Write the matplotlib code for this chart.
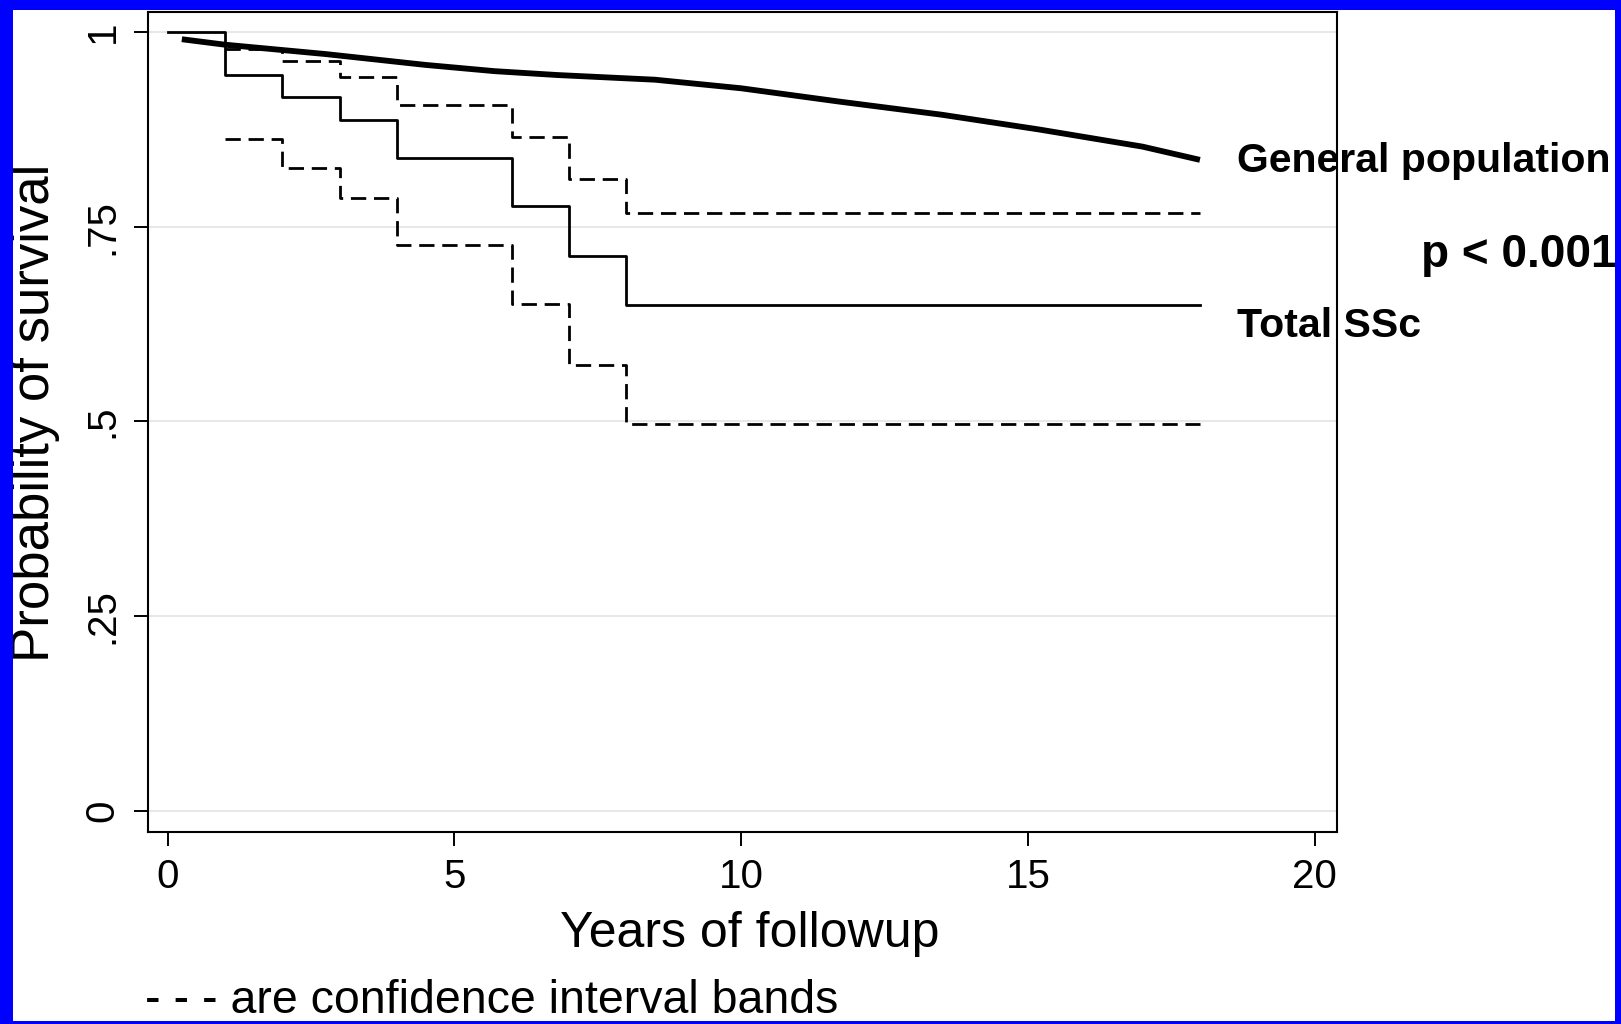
import matplotlib
matplotlib.use("Agg")
import matplotlib.pyplot as plt
from matplotlib.patches import Rectangle

plt.rcParams["font.family"] = ["Liberation Sans", "DejaVu Sans"]

# Kaplan-Meier survival for the SSc cohort (step function)
km_years = [0, 1, 2, 3, 4, 6, 7, 8, 18]
km_surv = [1.0, 0.945, 0.917, 0.887, 0.838, 0.777, 0.712, 0.650, 0.650]

# 95% confidence bands around the KM estimate
ci_years = [1, 2, 3, 4, 6, 7, 8, 18]
ci_upper = [0.978, 0.963, 0.942, 0.907, 0.865, 0.812, 0.768, 0.768]
ci_lower = [0.863, 0.826, 0.787, 0.727, 0.651, 0.572, 0.497, 0.497]

# Expected survival of the matched general population
gp_years = [0.25, 1, 2.75, 4.5, 5.7, 6.8, 8.5, 10, 11.7, 13.5, 15.2, 17, 18]
gp_surv = [0.991, 0.984, 0.972, 0.958, 0.950, 0.945, 0.939, 0.928, 0.911,
           0.894, 0.875, 0.853, 0.836]

x_ticks = [0, 5, 10, 15, 20]
y_ticks = [0, 0.25, 0.5, 0.75, 1]
y_tick_labels = ["0", ".25", ".5", ".75", "1"]

W, H = 1621, 1024
fig = plt.figure(figsize=(W / 100, H / 100), dpi=100, facecolor="white")
ax = fig.add_axes([148 / W, 1 - 832 / H, (1337 - 148) / W, (832 - 12) / H])

ax.set_xlim(-0.34, 20.39)
ax.set_ylim(-0.0276, 1.026)

# light horizontal grid
for yv in y_ticks:
    ax.axhline(yv, color="#e8e8e8", lw=1.5, zorder=0.5)

ax.plot(km_years, km_surv, drawstyle="steps-post", color="black", lw=2.0,
        zorder=3)
for band in (ci_upper, ci_lower):
    ax.plot(ci_years, band, drawstyle="steps-post", color="black", lw=2.0,
            linestyle=(0, (5.5, 2.8)), zorder=3)
ax.plot(gp_years, gp_surv, color="black", lw=4.2, solid_capstyle="butt",
        solid_joinstyle="round", zorder=4)

for s in ax.spines.values():
    s.set_linewidth(1.5)
    s.set_color("black")
    s.set_zorder(5)

ax.set_xticks(x_ticks)
ax.set_xticklabels([str(v) for v in x_ticks])
ax.set_yticks(y_ticks)
ax.set_yticklabels(y_tick_labels)
ax.tick_params(axis="both", which="major", length=10, width=1.4,
               labelsize=29, color="black")
ax.tick_params(axis="x", pad=9)
ax.tick_params(axis="y", pad=9, labelrotation=90)
for lab in ax.get_yticklabels():
    lab.set_va("center")

ax.set_xlabel("Years of followup", fontsize=36)
ax.xaxis.set_label_coords((750 - 148) / 1189, (832 - 934) / 820)
ax.xaxis.label.set_va("center")
ax.set_ylabel("Probability of survival", fontsize=38)
ax.yaxis.set_label_coords((35 - 148) / 1189, (832 - 413) / 820)
ax.yaxis.label.set_va("center")

txt_kw = dict(fontsize=29.5, fontweight="bold", ha="left", va="baseline",
              clip_on=False, zorder=2)
ax.text(18.64, 0.8205, "General population", **txt_kw)
ax.text(18.64, 0.6085, "Total SSc", **txt_kw)
ax.text(21.86, 0.6988, "p < 0.001", fontsize=33, fontweight="bold",
        ha="left", va="baseline", clip_on=False, zorder=2)

fig.text(145 / W, 1 - 1001 / H, "- - - are confidence interval bands",
         fontsize=33.5, ha="left", va="center")

# blue frame around the figure
blue = "#0000fe"
frame = [
    (0, H - 10, W, 10),      # top
    (0, 0, W, 3),            # bottom
    (0, 0, 13, H),           # left
    (1615, 0, W - 1615, H),  # right
]
for x0, y0, w, h in frame:
    fig.add_artist(Rectangle((x0 / W, y0 / H), w / W, h / H,
                             transform=fig.transFigure, facecolor=blue,
                             edgecolor="none", zorder=100))

fig.savefig("out.png", dpi=100, facecolor="white")
